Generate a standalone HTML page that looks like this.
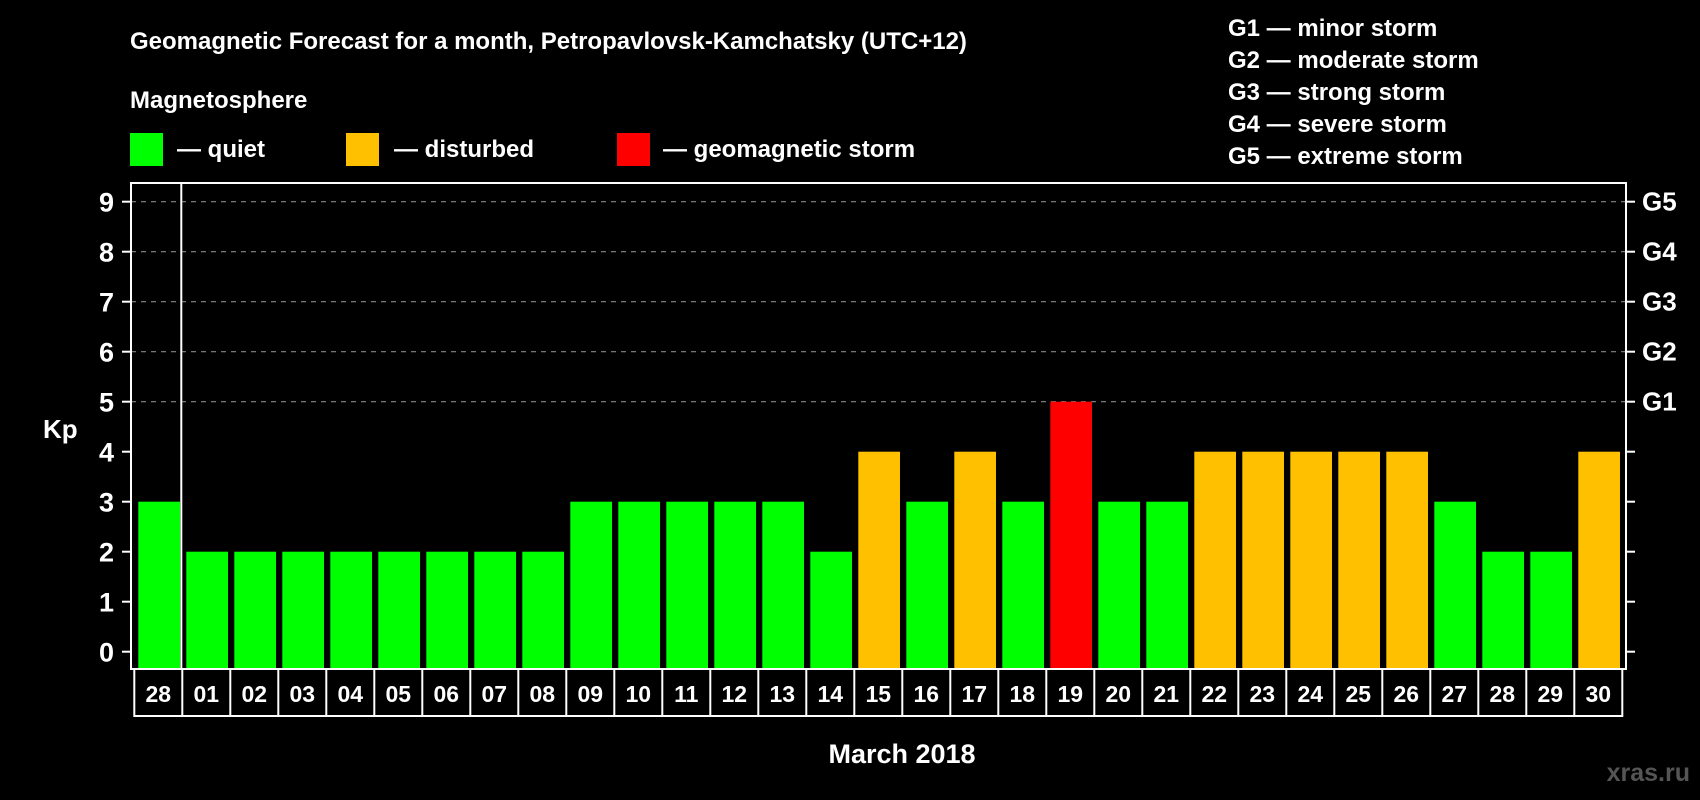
<!DOCTYPE html>
<html><head><meta charset="utf-8"><style>
html,body{margin:0;padding:0;background:#000;}
svg{display:block;font-family:"Liberation Sans",Arial,sans-serif;font-weight:bold;}
</style></head><body>
<svg id="chart" width="1700" height="800" viewBox="0 0 1700 800" xmlns="http://www.w3.org/2000/svg">
<rect width="1700" height="800" fill="#000"/>
<text x="130" y="49" fill="#fff" font-size="24">Geomagnetic Forecast for a month, Petropavlovsk-Kamchatsky (UTC+12)</text>
<text x="130" y="108" fill="#fff" font-size="24">Magnetosphere</text>
<rect x="130" y="133" width="33" height="33" fill="#00ff00"/>
<text x="177" y="157" fill="#fff" font-size="24">— quiet</text>
<rect x="346" y="133" width="33" height="33" fill="#ffc000"/>
<text x="394" y="157" fill="#fff" font-size="24">— disturbed</text>
<rect x="617" y="133" width="33" height="33" fill="#ff0000"/>
<text x="663" y="157" fill="#fff" font-size="24">— geomagnetic storm</text>
<g fill="#fff" font-size="24">
<text x="1228" y="36">G1 — minor storm</text>
<text x="1228" y="68">G2 — moderate storm</text>
<text x="1228" y="100">G3 — strong storm</text>
<text x="1228" y="132">G4 — severe storm</text>
<text x="1228" y="164">G5 — extreme storm</text>
</g>
<text x="43" y="438" fill="#fff" font-size="26">Kp</text>
<text x="902" y="763" fill="#fff" font-size="27" text-anchor="middle">March 2018</text>
<text x="1690" y="781" fill="#555" font-size="25" text-anchor="end">xras.ru</text>
<g id="grid"></g><g id="bars"></g><g id="axes"></g>
</svg>
<script>
const days=["28","01","02","03","04","05","06","07","08","09","10","11","12","13","14","15","16","17","18","19","20","21","22","23","24","25","26","27","28","29","30"];
const kp=[3,2,2,2,2,2,2,2,2,3,3,3,3,3,2,4,3,4,3,5,3,3,4,4,4,4,4,3,2,2,4];
const yTicks=[0,1,2,3,4,5,6,7,8,9];
const gLabels=["G1","G2","G3","G4","G5"];
const gLevels=[5,6,7,8,9];
const NS="http://www.w3.org/2000/svg";
const L=131,R=1626,T=183,B=669,slot0=134.3,slotW=48,barW=41.7;
function y(v){return 651.7-v*50;}
function xs(i){return slot0+i*slotW;}
function mk(tag,attrs,parent,txt){const e=document.createElementNS(NS,tag);for(const k in attrs)e.setAttribute(k,attrs[k]);if(txt!==undefined)e.textContent=txt;parent.appendChild(e);return e;}
const grid=document.getElementById('grid'),bars=document.getElementById('bars'),axes=document.getElementById('axes');
gLevels.forEach((v,i)=>{
 const g=mk('line',{x1:L,x2:R,y1:y(v),y2:y(v),stroke:'#888','stroke-width':1.2,'stroke-dasharray':'5,5'},grid);
 
 
 const t=mk('text',{x:1642,y:y(v)+9,fill:'#fff','font-size':26},axes,gLabels[i]);
 
 
});
function col(v){return v>=5?'#ff0000':(v>=4?'#ffc000':'#00ff00');}
kp.forEach((v,i)=>{
 const b=mk('rect',{x:xs(i)+4,y:y(v),width:barW,height:B-y(v),fill:col(v)},bars);
 
 
});
mk('rect',{x:L,y:T,width:R-L,height:B-T,fill:'none',stroke:'#fff','stroke-width':2},axes);
mk('line',{x1:xs(1)-1,x2:xs(1)-1,y1:T,y2:B,stroke:'#fff','stroke-width':2},axes);
yTicks.forEach(v=>{
 mk('line',{x1:122,x2:L,y1:y(v),y2:y(v),stroke:'#fff','stroke-width':2},axes);
 mk('line',{x1:R,x2:R+9,y1:y(v),y2:y(v),stroke:'#fff','stroke-width':2},axes);
 const t=mk('text',{x:114,y:y(v)+10,fill:'#fff','font-size':27,'text-anchor':'end'},axes,String(v));
 
 
});
const xStart=xs(0),xEnd=xs(days.length);
mk('rect',{x:xStart,y:B,width:xEnd-xStart,height:47,fill:'none',stroke:'#fff','stroke-width':2},axes);
days.forEach((d,i)=>{
 if(i>0)mk('line',{x1:xs(i),x2:xs(i),y1:B,y2:B+47,stroke:'#fff','stroke-width':2},axes);
 const t=mk('text',{x:xs(i)+slotW/2,y:702,fill:'#fff','font-size':23,'text-anchor':'middle'},axes,d);
 
 
});
</script>
</body></html>
